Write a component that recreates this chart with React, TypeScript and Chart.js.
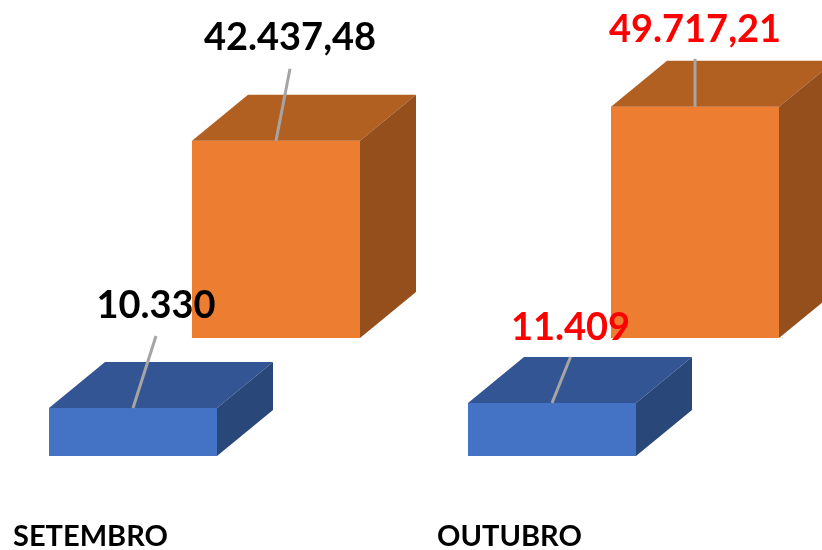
import React, { useEffect, useRef } from "react";
import { Chart, registerables } from "chart.js";

Chart.register(...registerables);

const categories = ["SETEMBRO", "OUTUBRO"];
const blueValues = [10330, 11409];
const orangeValues = [42437.48, 49717.21];
const blueLabels = ["10.330", "11.409"];
const orangeLabels = ["42.437,48", "49.717,21"];
const labelColors = ["#000000", "#FF0000"];

const FACE_COLORS = [
  { top: "#335593", side: "#2A4779" },
  { top: "#B25F22", side: "#954F1D" },
];
const DEPTH = { x: 56, y: -46 };
// offset of the leader end and of the text baseline from the bar's front-top centre
const LABEL_OFFSETS = [
  [
    { lx: 23, ly: -72, tx: 23, ty: -90 },
    { lx: 18.5, ly: -46, tx: 18.5, ty: -63 },
  ],
  [
    { lx: 14, ly: -72, tx: 14, ty: -91 },
    { lx: 0, ly: -48, tx: 0, ty: -65 },
  ],
];
const LABEL_TEXT = [blueLabels, orangeLabels];

const poly = (ctx: CanvasRenderingContext2D, pts: number[][], fill: string) => {
  ctx.beginPath();
  pts.forEach(([x, y], i) => (i ? ctx.lineTo(x, y) : ctx.moveTo(x, y)));
  ctx.closePath();
  ctx.fillStyle = fill;
  ctx.fill();
};

const box3d = {
  id: "box3d",
  afterDatasetDraw(chart: any, args: any) {
    const ctx = chart.ctx;
    const faces = FACE_COLORS[args.index];
    ctx.save();
    chart.getDatasetMeta(args.index).data.forEach((el: any) => {
      const l = el.x - el.width / 2;
      const r = el.x + el.width / 2;
      const { x: dx, y: dy } = DEPTH;
      poly(ctx, [[l, el.y], [r, el.y], [r + dx, el.y + dy], [l + dx, el.y + dy]], faces.top);
      poly(ctx, [[r, el.y], [r + dx, el.y + dy], [r + dx, el.base + dy], [r, el.base]], faces.side);
    });
    ctx.restore();
  },
  afterDatasetsDraw(chart: any) {
    const ctx = chart.ctx;
    ctx.save();
    ctx.textAlign = "center";
    ctx.textBaseline = "alphabetic";
    ctx.font = "700 38px Lato";
    [0, 1].forEach((ds) => {
      chart.getDatasetMeta(ds).data.forEach((el: any, i: number) => {
        const o = LABEL_OFFSETS[ds][i];
        ctx.beginPath();
        ctx.moveTo(el.x, el.y);
        ctx.lineTo(el.x + o.lx, el.y + o.ly);
        ctx.strokeStyle = "#A5A5A5";
        ctx.lineWidth = 3;
        ctx.stroke();
        ctx.fillStyle = labelColors[i];
        ctx.fillText(LABEL_TEXT[ds][i], el.x + o.tx, el.y + o.ty);
      });
    });
    ctx.restore();
  },
};

export default function App() {
  const ref = useRef<HTMLCanvasElement>(null);
  useEffect(() => {
    const chart = new Chart(ref.current!, {
      type: "bar",
      data: {
        labels: categories,
        datasets: [
          {
            label: "Série 1",
            data: blueValues,
            backgroundColor: "#4472C4",
            yAxisID: "yBlue",
            categoryPercentage: 0.6826,
            barPercentage: 1.1748,
            borderWidth: 0,
          },
          {
            label: "Série 2",
            data: orangeValues,
            backgroundColor: "#ED7D31",
            yAxisID: "yOrange",
            categoryPercentage: 0.6826,
            barPercentage: 1.1748,
            borderWidth: 0,
          },
        ],
      },
      options: {
        responsive: false,
        animation: false,
        events: [],
        plugins: { legend: { display: false }, title: { display: false }, tooltip: { enabled: false } },
        scales: {
          x: {
            grid: { display: false },
            border: { display: false },
            afterFit: (s: any) => {
              s.height = 40;
            },
            ticks: {
              autoSkip: false,
              maxRotation: 0,
              minRotation: 0,
              labelOffset: -114,
              padding: 1,
              color: "#000000",
              font: { family: "Lato", weight: "bold", size: 29 },
            },
          },
          yBlue: { display: false, min: -11613, max: 98065 },
          yOrange: { display: false, min: -36989, max: 72688 },
        },
      },
      plugins: [box3d],
    } as any);
    return () => chart.destroy();
  }, []);
  return (
    <div style={{ position: "absolute", left: 0, top: 0, width: 822, height: 550, overflow: "hidden", background: "#fff" }}>
      <canvas ref={ref} width={838} height={550} style={{ display: "block", marginLeft: -5 }} />
    </div>
  );
}
